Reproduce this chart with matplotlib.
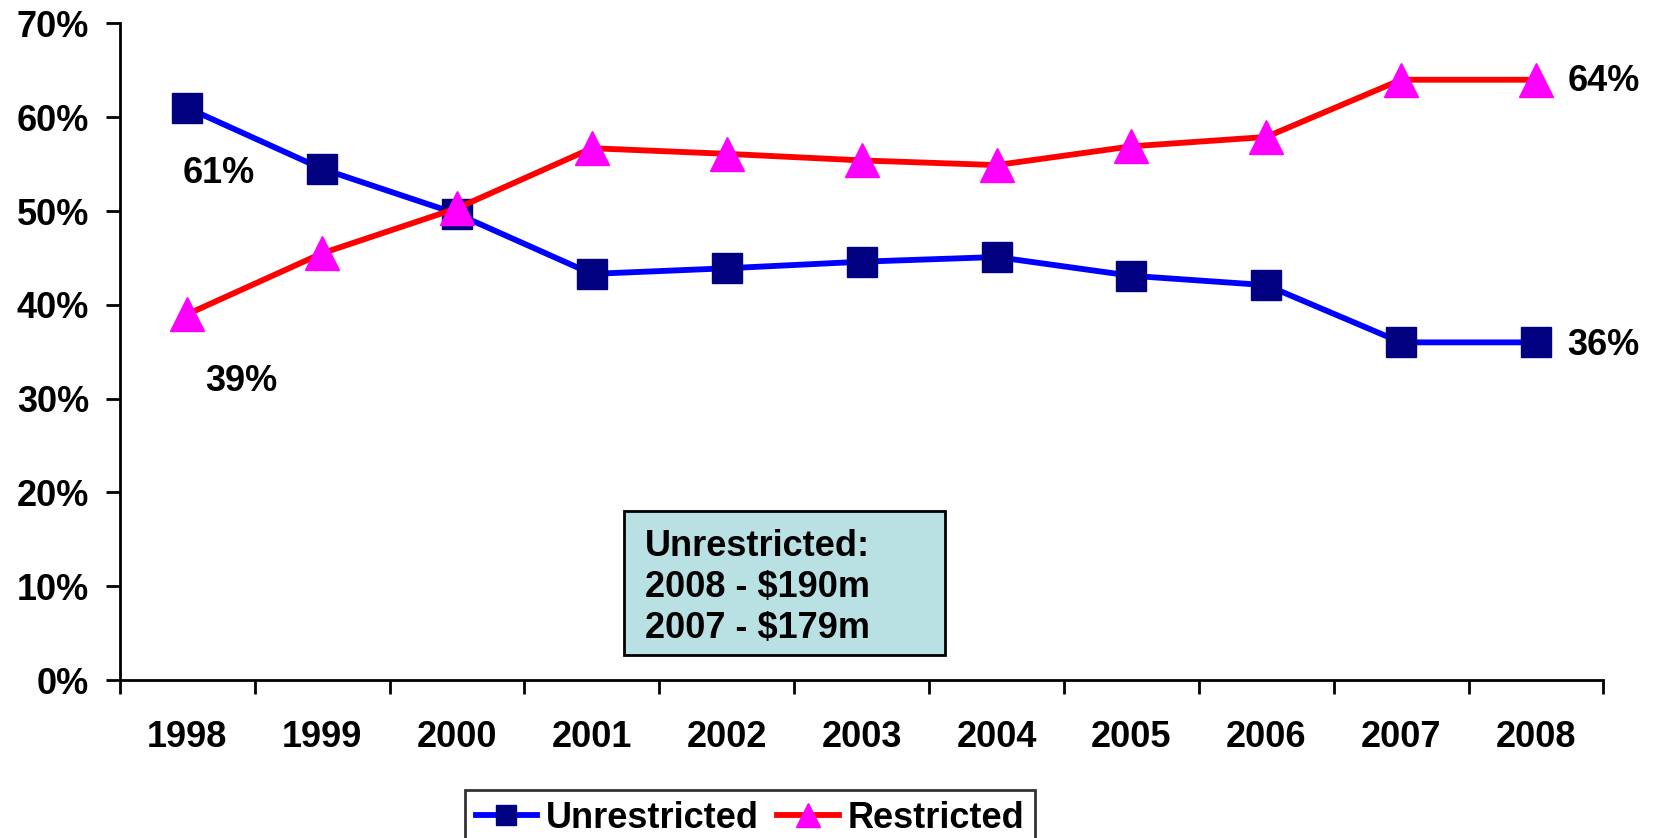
import numpy as np
import matplotlib
matplotlib.use("Agg")
import matplotlib.pyplot as plt
from matplotlib.patches import Rectangle

plt.rcParams['font.family'] = ['Liberation Sans', 'DejaVu Sans']
plt.rcParams['font.weight'] = 'bold'

years = ["1998", "1999", "2000", "2001", "2002", "2003", "2004", "2005", "2006", "2007", "2008"]
unrestricted = [61, 54.5, 49.7, 43.3, 43.9, 44.6, 45.1, 43.1, 42.1, 36, 36]
restricted = [39, 45.5, 50.3, 56.7, 56.1, 55.4, 54.9, 56.9, 57.9, 64, 64]
box_lines = ["Unrestricted:", "2008 - $190m", "2007 - $179m"]

FS = 26

fig = plt.figure(figsize=(16.65, 8.38), dpi=100)
ax = fig.add_axes([0.072, 0.1885, 0.891, 0.7835])

x = np.arange(len(years))
ax.plot(x, unrestricted, color="#0000FF", lw=4.2, marker="s", ms=21,
        mfc="#000080", mec="#000080", label="Unrestricted", zorder=3)
ax.plot(x, restricted, color="#FF0000", lw=4.2, marker="^", ms=25,
        mfc="#FF00FF", mec="#FF00FF", label="Restricted", zorder=4)

# end labels
ax.text(0.23, 54.0, "61%", fontsize=FS, ha="center", va="center")
ax.text(0.4, 31.8, "39%", fontsize=FS, ha="center", va="center")
ax.text(10.5, 63.8, "64%", fontsize=FS, ha="center", va="center")
ax.text(10.5, 35.7, "36%", fontsize=FS, ha="center", va="center")

ax.set_xlim(-0.5, len(years) - 0.5)
ax.set_ylim(0, 70)
ax.set_yticks(np.arange(0, 71, 10))
ax.set_yticklabels([f"{v}%" for v in range(0, 71, 10)])
ax.set_xticks(x)
ax.set_xticklabels(years)
ax.set_xticks(np.arange(-0.5, len(years)), minor=True)
ax.tick_params(axis="x", which="major", length=0, pad=29, labelsize=FS)
ax.tick_params(axis="x", which="minor", length=10, width=2, direction="out")
ax.tick_params(axis="y", length=10, width=2, pad=12, labelsize=FS)

for s in ["top", "right"]:
    ax.spines[s].set_visible(False)
for s in ["left", "bottom"]:
    ax.spines[s].set_linewidth(2)

# info box
fig.patches.append(Rectangle((624 / 1665, 1 - 655 / 838), 321 / 1665, 144 / 838,
                             transform=fig.transFigure, facecolor="#B9E0E3",
                             edgecolor="black", lw=2, zorder=5))
for i, t in enumerate(box_lines):
    fig.text(645 / 1665, 1 - (546 + i * 41) / 838, t, fontsize=FS,
             ha="left", va="center", zorder=6)

leg = fig.legend(loc="upper center", bbox_to_anchor=(0.4505, 1 - 790 / 838), ncol=2,
                 fontsize=FS, frameon=True, fancybox=False, edgecolor="black",
                 handlelength=1.7, columnspacing=0.5, handletextpad=0.25,
                 borderpad=0.3, borderaxespad=0, markerscale=0.7)
leg.get_frame().set_linewidth(2)

fig.savefig("out.png", dpi=100)
